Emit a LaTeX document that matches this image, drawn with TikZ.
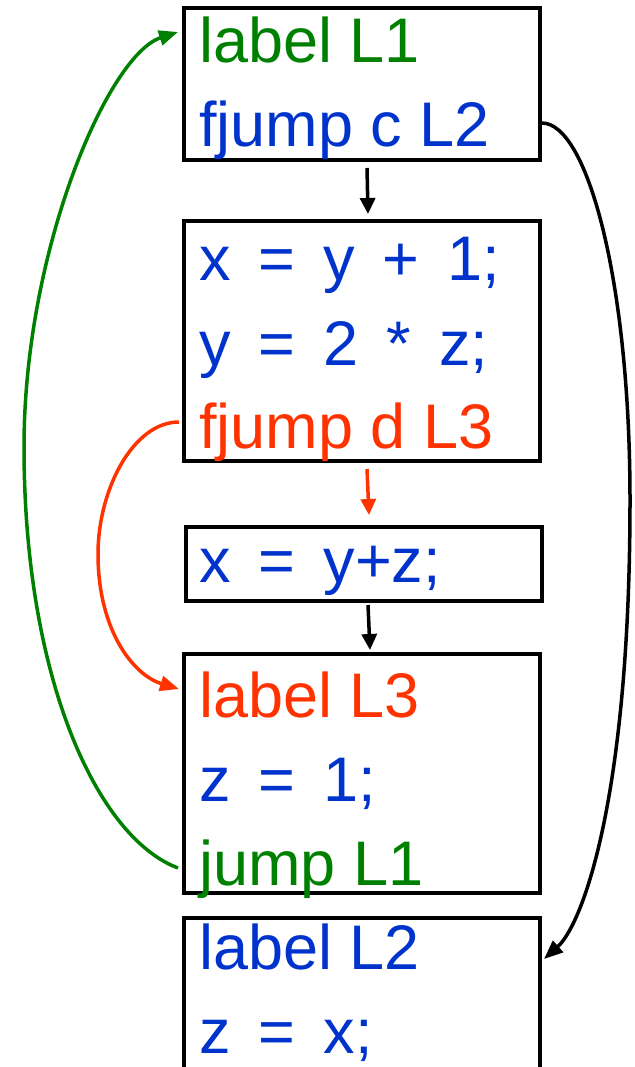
\documentclass[tikz,border=0pt]{standalone}
\usepackage{fontspec}
\setmainfont{Liberation Sans}
\newfontfamily\codefont[WordSpace=1.6]{Liberation Sans}
\usetikzlibrary{arrows.meta,calc}
\definecolor{cgreen}{RGB}{0,128,0}
\definecolor{cblue}{RGB}{0,51,204}
\definecolor{cred}{RGB}{255,51,0}
\begin{document}
\begin{tikzpicture}[x=1pt,y=-1pt,
  box/.style={draw=black,line width=4pt,rectangle,minimum width=356pt,inner sep=0pt,fill=none},
  txt/.style={anchor=base west,inner sep=0pt,font=\fontsize{63}{70}\selectfont},
  code/.style={anchor=base west,inner sep=0pt,font=\fontsize{63}{70}\selectfont\codefont},
  conn/.style={line width=3.5pt,-{Triangle[length=19pt,width=15pt]}},
  sconn/.style={line width=3.5pt,-{Triangle[length=16pt,width=15pt]}}]
\useasboundingbox (0,0) rectangle (634,1067);
\clip (0,0) rectangle (634,1067);
% helper coordinates (vertical levels)
\coordinate (y32) at (0,32);
\coordinate (y123) at (0,123);
\coordinate (y422) at (0,422);
\coordinate (y689) at (0,689);
\coordinate (y868) at (0,868);
\coordinate (y959) at (0,959);
\coordinate (kmid) at (630,500);
\coordinate (gmid) at (24,447);
\coordinate (rmid) at (98,554);
% boxes
\node[box,minimum height=152pt] (b1) at (362,84) {};
\node[box,minimum height=240pt] (b2) at (362,341) {};
\node[box,minimum height=74pt] (b3) at (364,564) {};
\node[box,minimum height=239pt] (b4) at (362,773.5) {};
\node[box,minimum height=282pt] (b5) at (362,1059) {};
% texts
\node[txt,text=cgreen] (t11) at (199,63) {label L1};
\node[txt,text=cblue] (t12) at (199,147) {fjump c L2};
\node[code,text=cblue] (t21) at (199,280) {x = y + 1;};
\node[code,text=cblue] (t22) at (199,365) {y = 2 * z;};
\node[txt,text=cred] (t23) at (199,448) {fjump d L3};
\node[code,text=cblue] (t31) at (199,582) {x = y+z;};
\node[txt,text=cred] (t41) at (199,717) {label L3};
\node[code,text=cblue] (t42) at (199,801) {z = 1;};
\node[txt,text=cgreen] (t43) at (199,885) {jump L1};
\node[txt,text=cblue] (t51) at (199,969) {label L2};
\node[code,text=cblue] (t52) at (199,1053) {z = x;};
% straight connectors
\draw[sconn,black] ($(b1.south)+(5,6)$) -- ($(b2.north)+(6,-5)$);
\draw[sconn,cred] ($(b2.south)+(5,6)$) -- ($(b3.north)+(5,-10)$);
\draw[sconn,black] ($(b3.south)+(4,2)$) -- ($(b4.north)+(8,-2)$);
% curved connectors
\draw[conn,black] (b1.east |- y123) .. controls +(45,0) and +(0,-220) .. (kmid)
  .. controls +(0,300) and +(38,-34) .. ($(b5.east |- y959)+(2,0)$);
\draw[conn,cgreen] ($(b4.west |- y868)+(-4,0)$) .. controls +(-80,-30) and +(0,233) .. (gmid)
  .. controls +(0,-197) and +(-70,23) .. ($(b1.west |- y32)+(-4,0)$);
\draw[conn,cred] ($(b2.west |- y422)+(-3,0)$) .. controls +(-46,0) and +(0,-64) .. (rmid)
  .. controls +(0,76) and +(-46,-14) .. ($(b4.west |- y689)+(-3,0)$);
\end{tikzpicture}
\end{document}
